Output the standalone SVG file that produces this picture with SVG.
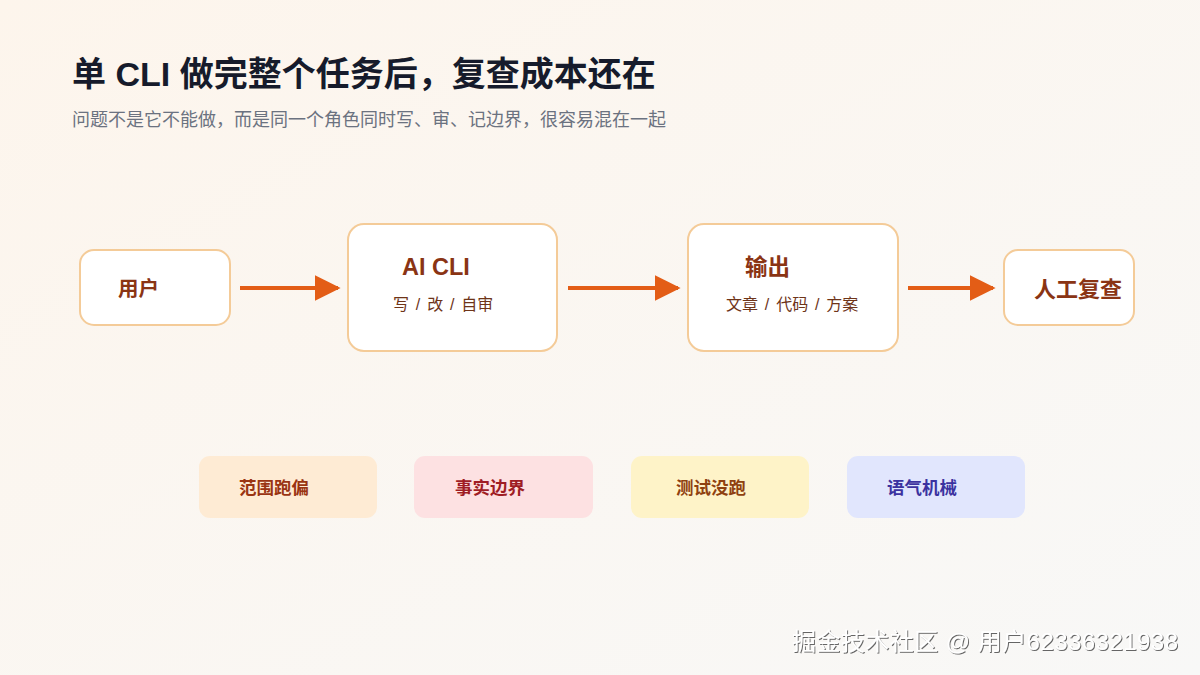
<svg xmlns="http://www.w3.org/2000/svg" width="1200" height="675" viewBox="0 0 1200 675">
<defs>
<linearGradient id="bg" x1="0" y1="0" x2="1" y2="1">
<stop offset="0" stop-color="#fdf5ec"/>
<stop offset="1" stop-color="#f8f8f7"/>
</linearGradient>
<marker id="ah" viewBox="0 0 10 10" refX="9" refY="5" markerWidth="6.5" markerHeight="6.5" markerUnits="strokeWidth" orient="auto">
<path d="M0,0 L10,5 L0,10 z" fill="#e35d16"/>
</marker>
<filter id="ws" x="-5%" y="-20%" width="110%" height="140%">
<feDropShadow dx="1" dy="1" stdDeviation="0.6" flood-color="#555" flood-opacity="0.9"/>
</filter>
</defs>
<style>
text{font-family:"Liberation Sans","Noto Sans CJK SC",sans-serif}
.node{fill:#ffffff;stroke:#f4cb98;stroke-width:2}
.lbl{font-weight:700;fill:#8a3414}
.sub{font-size:16px;fill:#6e3418;word-spacing:2.4px}
.conn{stroke:#e35d16;stroke-width:4;fill:none}
.pill-t{font-size:17.5px;font-weight:700}
</style>
<rect width="1200" height="675" fill="url(#bg)"/>
<text x="72" y="86" font-size="34" font-weight="700" fill="#161b2b">单 CLI 做完整个任务后，复查成本还在</text>
<text x="72" y="126" font-size="18" fill="#6b7280">问题不是它不能做，而是同一个角色同时写、审、记边界，很容易混在一起</text>

<g id="connectors">
<line class="conn" x1="240" y1="288" x2="338" y2="288" marker-end="url(#ah)"/>
<line class="conn" x1="568" y1="288" x2="678" y2="288" marker-end="url(#ah)"/>
<line class="conn" x1="908" y1="288" x2="993" y2="288" marker-end="url(#ah)"/>
</g>

<g id="node-user">
<rect class="node" x="80" y="250" width="150" height="75" rx="14"/>
<text class="lbl" x="118" y="296" font-size="20.5">用户</text>
</g>
<g id="node-aicli">
<rect class="node" x="348" y="224" width="209" height="127" rx="16"/>
<text class="lbl" x="402" y="275" font-size="23.5">AI CLI</text>
<text class="sub" x="393" y="310">写 / 改 / 自审</text>
</g>
<g id="node-output">
<rect class="node" x="688" y="224" width="210" height="127" rx="16"/>
<text class="lbl" x="745" y="275" font-size="22.5">输出</text>
<text class="sub" x="726" y="310">文章 / 代码 / 方案</text>
</g>
<g id="node-review">
<rect class="node" x="1004" y="250" width="130" height="75" rx="14"/>
<text class="lbl" x="1034" y="297" font-size="22">人工复查</text>
</g>

<g id="pill-scope">
<rect x="199" y="456" width="178" height="62" rx="11" fill="#feebd4"/>
<text class="pill-t" x="239" y="494" fill="#9a3412">范围跑偏</text>
</g>
<g id="pill-fact">
<rect x="414" y="456" width="179" height="62" rx="11" fill="#fde1e2"/>
<text class="pill-t" x="455" y="494" fill="#9f1d24">事实边界</text>
</g>
<g id="pill-test">
<rect x="631" y="456" width="178" height="62" rx="11" fill="#fef3c8"/>
<text class="pill-t" x="676" y="494" fill="#8f4110">测试没跑</text>
</g>
<g id="pill-tone">
<rect x="847" y="456" width="178" height="62" rx="11" fill="#e1e6fd"/>
<text class="pill-t" x="887" y="494" fill="#3b32a0">语气机械</text>
</g>

<text x="792" y="650" font-size="24" fill="#ffffff" filter="url(#ws)" textLength="386" lengthAdjust="spacing">掘金技术社区 @ 用户62336321938</text>
</svg>
